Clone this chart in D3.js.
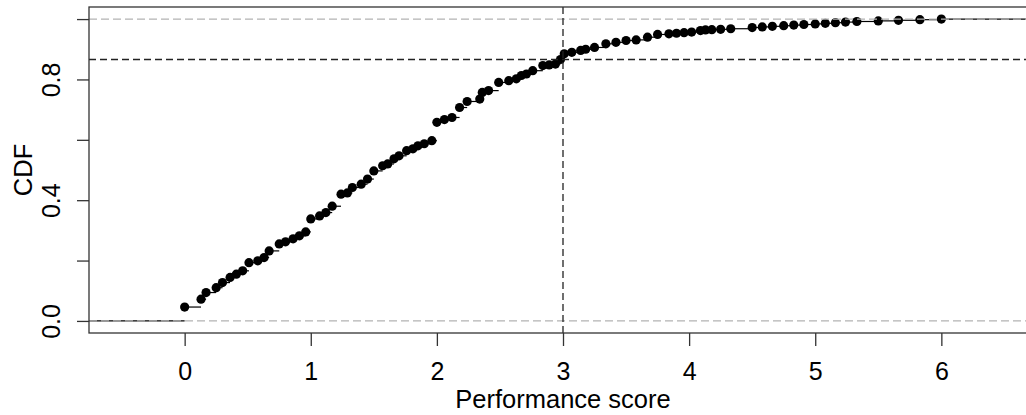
<!DOCTYPE html>
<html>
<head>
<meta charset="utf-8">
<script src="https://cdn.jsdelivr.net/npm/d3@7"></script>
<style>
  html, body { margin: 0; padding: 0; background: #fff; }
  svg { display: block; }
  text { font-family: "Liberation Sans", Arial, sans-serif; fill: #000; }
</style>
</head>
<body>
<svg id="chart" width="1026" height="415"></svg>
<script>
// ---- data ----
const knots = [0.00,0.13,0.17,0.25,0.30,0.36,0.41,0.46,0.51,0.58,0.63,0.67,0.75,0.80,0.86,0.91,0.96,
  1.00,1.07,1.12,1.17,1.24,1.29,1.33,1.40,1.45,1.50,1.57,1.61,1.66,1.70,1.76,1.81,1.85,1.90,1.96,
  2.00,2.06,2.12,2.18,2.24,2.34,2.36,2.41,2.49,2.57,2.63,2.67,2.71,2.76,2.84,2.89,2.94,2.98,
  3.01,3.07,3.14,3.18,3.25,3.34,3.42,3.50,3.58,3.67,3.75,3.84,3.90,3.96,
  4.02,4.09,4.13,4.18,4.25,4.33,4.50,4.58,4.66,4.75,4.83,4.91,
  5.00,5.08,5.16,5.24,5.33,5.50,5.66,5.83,6.00];
const cdf = [0.046,0.072,0.094,0.110,0.127,0.144,0.155,0.166,0.193,0.199,0.210,0.232,0.255,0.262,0.272,0.282,0.295,
  0.338,0.348,0.359,0.380,0.420,0.424,0.442,0.453,0.470,0.497,0.514,0.520,0.537,0.547,0.564,0.570,0.580,0.587,0.597,
  0.658,0.667,0.674,0.707,0.727,0.735,0.757,0.763,0.790,0.796,0.802,0.813,0.818,0.829,0.846,0.848,0.851,0.866,
  0.885,0.890,0.896,0.900,0.906,0.918,0.923,0.929,0.931,0.940,0.949,0.951,0.953,0.955,
  0.957,0.962,0.964,0.965,0.966,0.968,0.972,0.974,0.976,0.978,0.980,0.982,
  0.984,0.986,0.988,0.990,0.992,0.994,0.996,0.998,1.000];
const xTicks = [0,1,2,3,4,5,6];
const yTicks = [0,0.2,0.4,0.6,0.8,1.0];
const yTickLabels = {"0": "0.0", "0.4": "0.4", "0.8": "0.8"};
const refLines = [0, 1];          // gray 0/1 lines
const threshX = 3;                // vertical dashed line
const threshY = 0.866;            // horizontal dashed line
const xLabel = "Performance score";
const yLabel = "CDF";

// ---- layout ----
const svg = d3.select("#chart");
const L = 89, R = 1037, T = 7, B = 333;
const x = d3.scaleLinear().domain([-0.7584, 6.7584]).range([L, R]);
const y = d3.scaleLinear().domain([-0.04, 1.04]).range([B, T]);
const xmin = x.domain()[0], xmax = x.domain()[1];
const FS = 25;

svg.append("rect").attr("width", 1026).attr("height", 415).attr("fill", "#fff");

const g = svg.append("g");

// step segments (horizontal)
const segs = [];
segs.push({x0: xmin, x1: knots[0], v: 0});
for (let i = 0; i < knots.length; i++) {
  segs.push({x0: knots[i], x1: i < knots.length - 1 ? knots[i+1] : xmax, v: cdf[i]});
}
g.selectAll("line.seg").data(segs).enter().append("line")
  .attr("x1", d => x(d.x0)).attr("x2", d => x(d.x1))
  .attr("y1", d => y(d.v)).attr("y2", d => y(d.v))
  .attr("stroke", "#000").attr("stroke-width", 1.2);

// points
g.selectAll("circle.pt").data(knots).enter().append("circle")
  .attr("cx", d => x(d)).attr("cy", (d, i) => y(cdf[i]))
  .attr("r", 4.6).attr("fill", "#000");

// gray 0/1 dashed lines
g.selectAll("line.ref").data(refLines).enter().append("line")
  .attr("x1", L).attr("x2", R).attr("y1", d => y(d)).attr("y2", d => y(d))
  .attr("stroke", "#b3b3b3").attr("stroke-width", 1.3).attr("stroke-dasharray", "8,4");

// threshold dashed lines
g.append("line").attr("x1", L).attr("x2", R).attr("y1", y(threshY)).attr("y2", y(threshY))
  .attr("stroke", "#222").attr("stroke-width", 1.3).attr("stroke-dasharray", "7,4");
g.append("line").attr("x1", x(threshX)).attr("x2", x(threshX)).attr("y1", T).attr("y2", B)
  .attr("stroke", "#222").attr("stroke-width", 1.3).attr("stroke-dasharray", "7,4");

// frame
svg.append("rect").attr("x", L).attr("y", T).attr("width", R - L).attr("height", B - T)
  .attr("fill", "none").attr("stroke", "#333").attr("stroke-width", 1.3);

// x axis
const xAxis = d3.axisBottom(x).tickValues(xTicks).tickSize(13).tickPadding(3).tickFormat(d3.format("d"));
const xg = svg.append("g").attr("transform", `translate(0,${B})`).call(xAxis);
xg.select(".domain").remove();
xg.selectAll(".tick line").attr("stroke", "#333").attr("stroke-width", 1.3);
xg.selectAll(".tick text").attr("font-size", FS).attr("font-family", "Liberation Sans, Arial, sans-serif")
  .attr("fill", "#000").attr("dy", null).attr("y", 47);

// y axis
const yAxis = d3.axisLeft(y).tickValues(yTicks).tickSize(12).tickFormat(d => yTickLabels[String(d)] || "");
const yg = svg.append("g").attr("transform", `translate(${L},0)`).call(yAxis);
yg.select(".domain").remove();
yg.selectAll(".tick line").attr("stroke", "#333").attr("stroke-width", 1.3);
yg.selectAll(".tick text").attr("font-size", FS).attr("font-family", "Liberation Sans, Arial, sans-serif")
  .attr("fill", "#000").attr("x", null).attr("dy", null)
  .attr("transform", "translate(-29,0) rotate(-90)")
  .attr("text-anchor", "middle").attr("y", 0);

// axis titles
svg.append("text").attr("x", (L + R) / 2).attr("y", 408).attr("text-anchor", "middle")
  .attr("font-size", FS + 0.5).text(xLabel);
svg.append("text").attr("transform", `translate(32,${(T + B) / 2}) rotate(-90)`)
  .attr("text-anchor", "middle").attr("font-size", FS + 0.5).text(yLabel);
</script>
</body>
</html>
